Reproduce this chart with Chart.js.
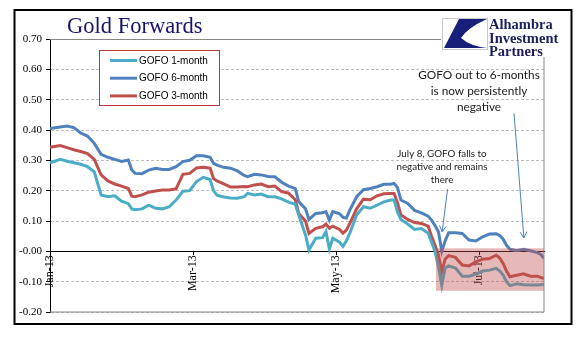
<!DOCTYPE html>
<html>
<head>
<meta charset="utf-8">
<script src="https://cdn.jsdelivr.net/npm/chart.js@4.4.0/dist/chart.umd.min.js"></script>
<style>
  html, body { margin: 0; padding: 0; background: #fff; }
  canvas { display: block; }
</style>
</head>
<body>
<canvas id="myChart" width="577" height="341"></canvas>
<script>
// trading-day index (0 = first session of 2013)
const dayIndex = [0, 3, 5, 7, 9, 11, 13, 15, 17, 19, 21, 23, 24, 25, 27, 29, 31, 33, 35, 37,
  39, 41, 43, 45, 47, 48, 49, 51, 53, 55, 57, 58, 60, 62, 64, 66, 68, 70, 72, 73,
  75, 76, 78, 80, 81, 82, 83, 85, 86, 87, 88, 90, 92, 94, 96, 98, 100, 101, 102, 103,
  105, 107, 109, 111, 112, 113, 114, 115, 116, 117, 119, 121, 123, 125, 127, 129, 131, 132, 133, 134,
  135, 137, 139, 141, 143, 144, 145];

const gofo1m = [0.292, 0.303, 0.297, 0.292, 0.287, 0.279, 0.262, 0.186, 0.180, 0.183,
  0.165, 0.157, 0.140, 0.137, 0.140, 0.152, 0.142, 0.140, 0.147, 0.169,
  0.198, 0.200, 0.230, 0.244, 0.237, 0.200, 0.185, 0.179, 0.176, 0.175,
  0.180, 0.191, 0.186, 0.189, 0.180, 0.180, 0.173, 0.162, 0.155, 0.120,
  0.054, 0.004, 0.043, 0.045, 0.065, 0.008, 0.043, 0.030, 0.016, 0.035,
  0.060, 0.120, 0.147, 0.142, 0.152, 0.163, 0.169, 0.169, 0.130, 0.105,
  0.090, 0.072, 0.075, 0.060, 0.030, 0.000, -0.050, -0.112, -0.055, -0.048,
  -0.055, -0.082, -0.082, -0.075, -0.065, -0.062, -0.056, -0.065, -0.078, -0.100,
  -0.113, -0.107, -0.110, -0.111, -0.111, -0.110, -0.109];

const gofo6m = [0.405, 0.410, 0.413, 0.408, 0.390, 0.380, 0.356, 0.320, 0.310, 0.303,
  0.296, 0.301, 0.268, 0.257, 0.256, 0.268, 0.274, 0.270, 0.270, 0.279,
  0.296, 0.300, 0.315, 0.315, 0.310, 0.290, 0.284, 0.277, 0.274, 0.265,
  0.250, 0.246, 0.254, 0.252, 0.247, 0.246, 0.228, 0.215, 0.207, 0.164,
  0.140, 0.105, 0.125, 0.127, 0.131, 0.103, 0.131, 0.124, 0.112, 0.110,
  0.136, 0.180, 0.203, 0.207, 0.213, 0.221, 0.221, 0.224, 0.210, 0.169,
  0.158, 0.135, 0.127, 0.116, 0.103, 0.085, 0.065, 0.000, 0.035, 0.061,
  0.061, 0.059, 0.037, 0.034, 0.048, 0.057, 0.058, 0.052, 0.040, 0.020,
  0.007, 0.002, 0.007, 0.002, -0.004, -0.010, -0.023];

const gofo3m = [0.343, 0.349, 0.342, 0.335, 0.329, 0.322, 0.303, 0.252, 0.232, 0.222,
  0.215, 0.207, 0.182, 0.180, 0.186, 0.195, 0.199, 0.202, 0.202, 0.206,
  0.254, 0.257, 0.275, 0.277, 0.274, 0.240, 0.232, 0.222, 0.212, 0.212,
  0.214, 0.213, 0.219, 0.222, 0.213, 0.215, 0.197, 0.192, 0.170, 0.125,
  0.100, 0.059, 0.076, 0.081, 0.090, 0.076, 0.083, 0.072, 0.060, 0.070,
  0.092, 0.140, 0.172, 0.170, 0.183, 0.190, 0.191, 0.191, 0.160, 0.120,
  0.105, 0.095, 0.092, 0.083, 0.050, 0.020, -0.012, -0.067, -0.025, -0.014,
  -0.020, -0.045, -0.048, -0.035, -0.026, -0.024, -0.013, -0.022, -0.040, -0.065,
  -0.084, -0.079, -0.074, -0.082, -0.082, -0.086, -0.090];

const tickIndex = [0, 42, 84, 126];
const tickLabels = ['Jan-13', 'Mar-13', 'May-13', 'Jul-13'];

const seriesNames = ['GOFO 1-month', 'GOFO 6-month', 'GOFO 3-month'];
const seriesColors = ['#4bacc6', '#4f81bd', '#c0504d'];

// negative zone after July 8: [from day, to day, top, bottom]
const shadeBox = [113.3, 145, 0.01, -0.13];

const notes = [
  { lines: ['GOFO out to 6-months', 'is now persistently', 'negative'], x: 479, y: 75, step: 16, size: 11.8,
    arrow: [136.2, 0.455, 139.1, 0.044] },
  { lines: ['July 8, GOFO falls to', 'negative and remains', 'there'], x: 442, y: 154, step: 13, size: 9.8,
    arrow: [116.7, 0.205, 115.1, 0.064] }
];

const serif = '"Liberation Serif", "Times New Roman", serif';

function toPoints(values) {
  return dayIndex.map((d, k) => ({ x: d, y: values[k] }));
}

function drawArrow(ctx, x1, y1, x2, y2) {
  const a = Math.atan2(y2 - y1, x2 - x1);
  const h = 7;
  ctx.beginPath();
  ctx.moveTo(x1, y1);
  ctx.lineTo(x2, y2);
  ctx.moveTo(x2 - h * Math.cos(a - 0.5), y2 - h * Math.sin(a - 0.5));
  ctx.lineTo(x2, y2);
  ctx.lineTo(x2 - h * Math.cos(a + 0.5), y2 - h * Math.sin(a + 0.5));
  ctx.stroke();
}

const whiteBackground = {
  id: 'whiteBackground',
  beforeDraw: (chart) => {
    const ctx = chart.ctx;
    ctx.save();
    ctx.fillStyle = '#fff';
    ctx.fillRect(0, 0, chart.width, chart.height);
    ctx.restore();
  }
};

// translucent red box over the lines
const negativeShade = {
  id: 'negativeShade',
  afterDatasetsDraw: (chart) => {
    const { ctx, scales: { x, y } } = chart;
    const l = x.getPixelForValue(shadeBox[0]);
    const r = x.getPixelForValue(shadeBox[1]);
    const t = y.getPixelForValue(shadeBox[2]);
    const b = y.getPixelForValue(shadeBox[3]);
    ctx.save();
    ctx.fillStyle = 'rgba(192, 80, 77, 0.4)';
    ctx.fillRect(l, t, r - l, b - t);
    ctx.restore();
  }
};

const decorations = {
  id: 'decorations',
  afterDraw: (chart) => {
    const { ctx, chartArea: area, scales: { x, y } } = chart;
    ctx.save();

    // plot frame (top, right, bottom)
    ctx.strokeStyle = '#868686';
    ctx.lineWidth = 1;
    ctx.beginPath();
    ctx.moveTo(area.left, Math.round(area.top) + 0.5);
    ctx.lineTo(area.right, Math.round(area.top) + 0.5);
    ctx.lineTo(area.right, area.bottom);
    ctx.lineTo(area.left, area.bottom);
    ctx.stroke();

    // arrows and notes
    ctx.strokeStyle = '#4f81bd';
    ctx.lineWidth = 1;
    ctx.fillStyle = '#1a1a1a';
    ctx.textAlign = 'center';
    ctx.textBaseline = 'middle';
    notes.forEach((n) => {
      const [x1, y1, x2, y2] = n.arrow;
      drawArrow(ctx, x.getPixelForValue(x1), y.getPixelForValue(y1), x.getPixelForValue(x2), y.getPixelForValue(y2));
      ctx.font = n.size + 'px Lato, "Open Sans", sans-serif';
      n.lines.forEach((s, k) => ctx.fillText(s, n.x, n.y + k * n.step));
    });

    // title
    ctx.textAlign = 'left';
    ctx.textBaseline = 'alphabetic';
    ctx.fillStyle = '#14146b';
    ctx.font = '22.5px ' + serif;
    ctx.fillText('Gold Forwards', 67, 33);

    // legend box
    ctx.fillStyle = '#fff';
    ctx.fillRect(99.5, 50.5, 120, 55);
    ctx.strokeStyle = '#b33a37';
    ctx.strokeRect(99.5, 50.5, 120, 55);
    ctx.font = '10px "Liberation Sans", Arial, sans-serif';
    ctx.textBaseline = 'middle';
    chart.data.datasets.forEach((ds, k) => {
      const ly = 60.5 + k * 17.7;
      ctx.strokeStyle = ds.borderColor;
      ctx.lineWidth = 3;
      ctx.beginPath();
      ctx.moveTo(110, ly);
      ctx.lineTo(137, ly);
      ctx.stroke();
      ctx.fillStyle = '#000';
      ctx.fillText(ds.label, 139, ly + 0.5);
    });

    // company mark
    ctx.fillStyle = '#fff';
    ctx.fillRect(441, 16, 126, 41);
    ctx.strokeStyle = '#c8c8c8';
    ctx.lineWidth = 1;
    ctx.strokeRect(442.5, 18.5, 45, 31);
    ctx.fillStyle = '#16207a';
    ctx.beginPath();
    ctx.moveTo(459, 19);
    ctx.lineTo(487, 19);
    ctx.quadraticCurveTo(467, 28, 461, 38);
    ctx.quadraticCurveTo(470, 46, 487, 48);
    ctx.lineTo(444, 48);
    ctx.closePath();
    ctx.fill();
    ctx.fillStyle = '#1c1f5e';
    ctx.font = 'bold 14.5px ' + serif;
    ctx.textBaseline = 'alphabetic';
    ['Alhambra', 'Investment', 'Partners'].forEach((s, k) => ctx.fillText(s, 489, 29 + k * 13.5));

    // outer border
    ctx.strokeStyle = '#000';
    ctx.lineWidth = 2;
    ctx.strokeRect(14.5, 10, 557, 314);
    ctx.restore();
  }
};

const ctx = document.getElementById('myChart').getContext('2d');
const chart = new Chart(ctx, {
  type: 'line',
  data: {
    datasets: [gofo1m, gofo6m, gofo3m].map((vals, k) => ({
      label: seriesNames[k],
      data: toPoints(vals),
      borderColor: seriesColors[k],
      backgroundColor: seriesColors[k],
      borderWidth: 3,
      pointRadius: 0,
      tension: 0,
      fill: false
    }))
  },
  plugins: [whiteBackground, negativeShade, decorations],
  options: {
    responsive: false,
    devicePixelRatio: 1,
    animation: false,
    layout: { padding: { left: 0, top: 39, right: 33, bottom: 29 } },
    plugins: {
      legend: { display: false },
      tooltip: { enabled: false }
    },
    scales: {
      x: {
        type: 'linear',
        position: { y: 0 },
        min: 0,
        max: 145,
        afterBuildTicks: (s) => { s.ticks = tickIndex.map((v) => ({ value: v })); },
        afterFit: (s) => { s.paddingLeft = 0; s.paddingRight = 0; },
        grid: { drawOnChartArea: false, drawTicks: true, tickLength: 3, tickColor: '#000' },
        border: { color: '#000', width: 1 },
        ticks: {
          autoSkip: false,
          minRotation: 90,
          maxRotation: 90,
          padding: 1,
          color: '#000',
          font: { family: serif, size: 12 },
          callback: (v) => tickLabels[tickIndex.indexOf(v)]
        }
      },
      y: {
        min: -0.2,
        max: 0.7,
        afterFit: (s) => { s.width = 50; s.paddingTop = 0; s.paddingBottom = 0; },
        grid: {
          color: (c) => (Math.abs(c.tick.value) < 1e-9 ? 'rgba(0,0,0,0)' : '#bdbdbd'),
          tickColor: '#000',
          tickLength: 4,
          tickBorderDash: []
        },
        border: { color: '#000', width: 1, dash: [3, 2] },
        ticks: {
          stepSize: 0.1,
          padding: 4,
          color: '#000',
          font: { family: serif, size: 11 },
          callback: (v) => v.toFixed(2)
        }
      }
    }
  }
});
</script>
</body>
</html>
